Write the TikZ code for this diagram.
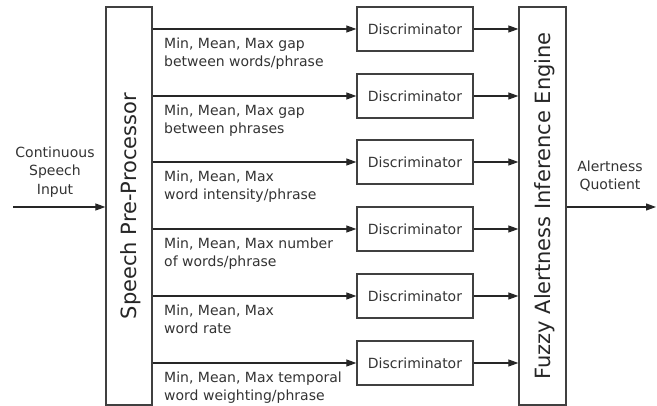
\documentclass[tikz,border=0pt]{standalone}
\usepackage{fontspec}
\setmainfont{DejaVu Sans}
\usetikzlibrary{arrows.meta}
\begin{document}
\begin{tikzpicture}[x=1pt,y=-1pt,
  box/.style={draw=black!75, line width=1.3pt},
  conn/.style={draw=black!85, line width=1.1pt, -{Triangle[length=10pt,width=7pt]}},
  lbl/.style={font=\fontsize{14}{18.5}\selectfont, text=black!80, align=left, inner sep=0pt, anchor=north west},
  ctxt/.style={font=\fontsize{14}{18.5}\selectfont, text=black!80, align=center, inner sep=0pt},
  disc/.style={box, minimum width=116pt, minimum height=44pt, inner sep=0pt, font=\fontsize{14}{18.5}\selectfont, text=black!80},
  tall/.style={box, minimum width=46pt, minimum height=398pt, inner sep=0pt},
  big/.style={font=\fontsize{21}{25}\selectfont, rotate=90, text=black!85, inner sep=0pt}
]
\useasboundingbox (0,0) rectangle (657,406);

\node[tall] (pre) at (129,206) {};
\node[big] (pretext) at (131,206) {Speech Pre-Processor};
\node[tall, minimum width=47pt] (fuzzy) at (542.5,206) {};
\node[big] (fuzzytext) at (544.5,206) {Fuzzy Alertness Inference Engine};

\node[disc] (d1) at (415,29) {Discriminator};
\node[disc] (d2) at (415,96) {Discriminator};
\node[disc] (d3) at (415,162) {Discriminator};
\node[disc] (d4) at (415,229) {Discriminator};
\node[disc] (d5) at (415,296) {Discriminator};
\node[disc] (d6) at (415,363) {Discriminator};

\foreach \i in {1,...,6}{
  \draw[conn] (pre.east |- d\i.west) -- (d\i.west);
  \draw[conn] (d\i.east) -- (fuzzy.west |- d\i.east);
}

\node[lbl] (l1) at (164,37.5) {Min, Mean, Max gap\\between words/phrase};
\node[lbl] (l2) at (164,104.5) {Min, Mean, Max gap\\between phrases};
\node[lbl] (l3) at (164,170.5) {Min, Mean, Max\\word intensity/phrase};
\node[lbl] (l4) at (164,237.5) {Min, Mean, Max number\\of words/phrase};
\node[lbl] (l5) at (164,304.5) {Min, Mean, Max\\word rate};
\node[lbl] (l6) at (164,371.5) {Min, Mean, Max temporal\\word weighting/phrase};

\coordinate (in) at (13,207);
\coordinate (out) at (656,207);
\draw[conn] (in) -- (pre.west |- in);
\draw[conn] (fuzzy.east |- out) -- (out);

\node[ctxt] (inlbl) at (55,172) {Continuous\\Speech\\Input};
\node[ctxt] (outlbl) at (610,176) {Alertness\\Quotient};
\end{tikzpicture}
\end{document}
